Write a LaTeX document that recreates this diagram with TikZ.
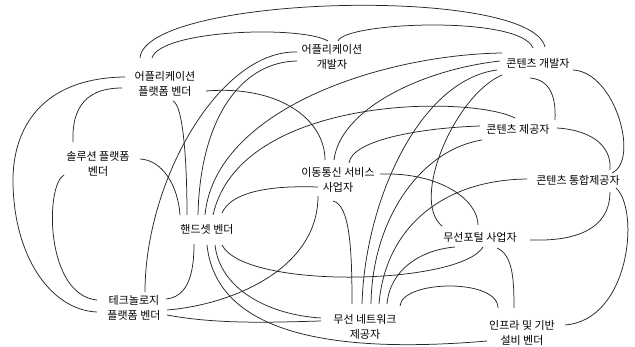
\documentclass[tikz,border=0pt]{standalone}
\usepackage{fontspec}
\newfontfamily\kr{Noto Sans CJK KR}
\begin{document}
\begin{tikzpicture}[x=1pt,y=-1pt,
  lbl/.style={font=\kr\fontsize{11}{15}\selectfont, align=center, inner sep=0pt, text=black},
  link/.style={draw=black!85, line width=0.75pt}]
\useasboundingbox (0,0) rectangle (635,347);
\fill[white] (0,0) rectangle (635,347);
% nodes
\node[lbl] (A) at (332,57) {어플리케이션\\개발자};
\node[lbl] (B) at (538,63) {콘텐츠 개발자};
\node[lbl] (C) at (165,84) {어플리케이션\\플랫폼 벤더};
\node[lbl] (D) at (518,129) {콘텐츠 제공자};
\node[lbl] (E) at (98,164) {솔루션 플랫폼\\벤더};
\node[lbl] (F) at (338,180) {이동통신 서비스\\사업자};
\node[lbl] (G) at (578,180) {콘텐츠 통합제공자};
\node[lbl] (H) at (207,229) {핸드셋 벤더};
\node[lbl] (I) at (480,237) {무선포털 사업자};
\node[lbl] (J) at (134,308) {테크놀로지\\플랫폼 벤더};
\node[lbl] (K) at (365,327) {무선 네트워크\\제공자};
\node[lbl] (L) at (522,333) {인프라 및 기반\\설비 벤더};
% connectors
\draw[link] ([shift={(-25,-26)}]C.center) .. controls (145,-5) and (530,-15) .. ([shift={(7,-16)}]B.center);
\draw[link] ([shift={(-13,-26)}]C.center) .. controls (160,30) and (300,25) .. ([shift={(-4,-16)}]A.center);
\draw[link] ([shift={(6,-16)}]A.center) .. controls (345,22) and (520,15) .. ([shift={(-5,-15)}]B.center);
\draw[link] ([shift={(-40,-7)}]C.center) .. controls (40,78) and (13,130) .. (13,180) .. controls (13,255) and (50,310) .. ([shift={(-37,4)}]J.center);
\draw[link] ([shift={(-43,4)}]C.center) .. controls (80,88) and (72,115) .. ([shift={(-25,-22)}]E.center);
\draw[link] ([shift={(41,7)}]C.center) .. controls (280,85) and (325,120) .. ([shift={(-13,-20)}]F.center);
\draw[link] ([shift={(8,17)}]C.center) .. controls (183,105) and (187,160) .. ([shift={(-20,-14)}]H.center);
\draw[link] ([shift={(-35,-5)}]A.center) .. controls (220,50) and (145,180) .. ([shift={(11,-16)}]J.center);
\draw[link] ([shift={(-35,4)}]A.center) .. controls (240,62) and (200,120) .. ([shift={(-9,-14)}]H.center);
\draw[link] ([shift={(42,-5)}]E.center) .. controls (162,160) and (178,185) .. ([shift={(-27,-14)}]H.center);
\draw[link] ([shift={(-34,11)}]E.center) .. controls (45,185) and (45,295) .. ([shift={(-37,-8)}]J.center);
\draw[link] ([shift={(-36,-10)}]B.center) .. controls (380,55) and (215,110) .. ([shift={(-2,-14)}]H.center);
\draw[link] ([shift={(-3,-11)}]D.center) .. controls (470,95) and (240,95) .. ([shift={(6,-14)}]H.center);
\draw[link] ([shift={(-20,7)}]F.center) .. controls (260,185) and (230,195) .. ([shift={(15,-16)}]H.center);
\draw[link] ([shift={(35,7)}]B.center) .. controls (615,72) and (640,160) .. ([shift={(34,-7)}]G.center);
\draw[link] ([shift={(-8,15)}]B.center) .. controls (552,80) and (556,100) .. ([shift={(37,-9)}]D.center);
\draw[link] ([shift={(39,-1)}]D.center) .. controls (590,130) and (612,145) .. ([shift={(32,-10)}]G.center);
\draw[link] ([shift={(-5,21)}]F.center) .. controls (350,205) and (352,250) .. ([shift={(-13,-23)}]K.center);
\draw[link] ([shift={(-20,16)}]F.center) .. controls (318,270) and (230,305) .. ([shift={(33,2)}]J.center);
\draw[link] ([shift={(11,-17)}]F.center) .. controls (352,140) and (420,128) .. ([shift={(-38,-3)}]D.center);
\draw[link] ([shift={(42,-6)}]F.center) .. controls (440,172) and (478,200) .. ([shift={(-2,-12)}]I.center);
\draw[link] ([shift={(-36,12)}]B.center) .. controls (455,95) and (410,200) .. ([shift={(-38,-11)}]I.center);
\draw[link] ([shift={(-41,7)}]B.center) .. controls (420,80) and (365,200) .. ([shift={(-3,-23)}]K.center);
\draw[link] ([shift={(-36,11)}]D.center) .. controls (420,150) and (372,220) .. ([shift={(6,-23)}]K.center);
\draw[link] ([shift={(-51,-1)}]G.center) .. controls (440,180) and (385,230) .. ([shift={(14,-23)}]K.center);
\draw[link] ([shift={(-25,10)}]I.center) .. controls (420,250) and (390,270) .. ([shift={(22,-23)}]K.center);
\draw[link] ([shift={(15,16)}]H.center) .. controls (245,290) and (460,285) .. ([shift={(3,10)}]I.center);
\draw[link] ([shift={(17,11)}]I.center) .. controls (513,255) and (514,280) .. ([shift={(-8,-25)}]L.center);
\draw[link] ([shift={(50,3)}]I.center) .. controls (590,242) and (610,220) .. ([shift={(32,12)}]G.center);
\draw[link] ([shift={(38,8)}]G.center) .. controls (640,210) and (630,320) .. ([shift={(43,-8)}]L.center);
\draw[link] ([shift={(35,-21)}]K.center) .. controls (402,280) and (498,278) .. ([shift={(-24,-25)}]L.center);
\draw[link] ([shift={(8,16)}]H.center) .. controls (220,290) and (270,315) .. ([shift={(-44,-9)}]K.center);
\draw[link] ([shift={(0,16)}]H.center) .. controls (215,320) and (300,357) .. ([shift={(-35,8)}]L.center);
\draw[link] ([shift={(33,7)}]J.center) .. controls (220,325) and (280,322) .. ([shift={(-44,-6)}]K.center);
\draw[link] ([shift={(-13,15)}]H.center) .. controls (194,280) and (185,297) .. ([shift={(32,-9)}]J.center);
\draw[link] ([shift={(-38,-2)}]B.center) .. controls (420,70) and (340,110) .. ([shift={(-4,-20)}]F.center);
\end{tikzpicture}
\end{document}
